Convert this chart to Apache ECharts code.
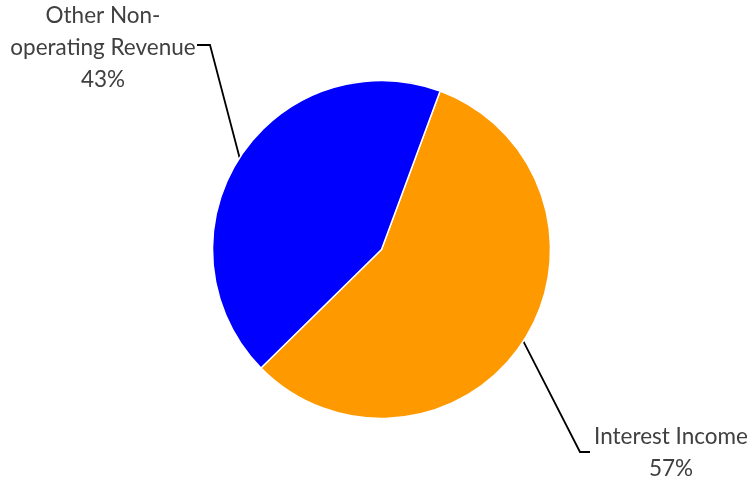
<!DOCTYPE html>
<html>
<head>
<meta charset="utf-8">
<script src="https://cdn.jsdelivr.net/npm/echarts@6/dist/echarts.min.js"></script>
<style>
  html, body { margin: 0; padding: 0; background: #fff; }
  #chart { width: 749px; height: 484px; }
</style>
</head>
<body>
<div id="chart"></div>
<script>
// Revenue split between interest income and other non-operating revenue
const categories = ['Interest Income', 'Other Non-\noperating Revenue'];
const shares = [57, 43];
const colors = ['#FF9900', '#0000FF'];

const chart = echarts.init(document.getElementById('chart'), null, { renderer: 'canvas' });

const data = categories.map((name, i) => ({
  name: name,
  value: shares[i],
  itemStyle: { color: colors[i] }
}));

// Label anchors plus where each leader line bends and ends
const labelSpots = [
  { x: 671, y: 453, lineY: 452, bendX: 580, endX: 590 },
  { x: 103, y: 48, lineY: 45, bendX: 210, endX: 197 }
];

chart.setOption({
  animation: false,
  backgroundColor: '#ffffff',
  series: [{
    type: 'pie',
    center: [381.5, 249.5],
    radius: [0, 169],
    startAngle: 69.7,
    clockwise: true,
    avoidLabelOverlap: false,
    itemStyle: { borderColor: '#ffffff', borderWidth: 1.5 },
    label: {
      show: true,
      position: 'outside',
      formatter: p => p.name + '\n' + p.value + '%',
      fontFamily: 'Lato',
      fontWeight: 400,
      fontSize: 22.5,
      lineHeight: 32,
      color: '#404040',
      align: 'center'
    },
    labelLine: {
      show: true,
      lineStyle: { color: '#000000', width: 1.8 }
    },
    labelLayout: function (params) {
      const s = labelSpots[params.dataIndex];
      const start = params.labelLinePoints ? params.labelLinePoints[0] : [s.bendX, s.lineY];
      return {
        x: s.x,
        y: s.y,
        align: 'center',
        verticalAlign: 'middle',
        labelLinePoints: [start, [s.bendX, s.lineY], [s.endX, s.lineY]]
      };
    },
    data: data
  }]
});
</script>
</body>
</html>
